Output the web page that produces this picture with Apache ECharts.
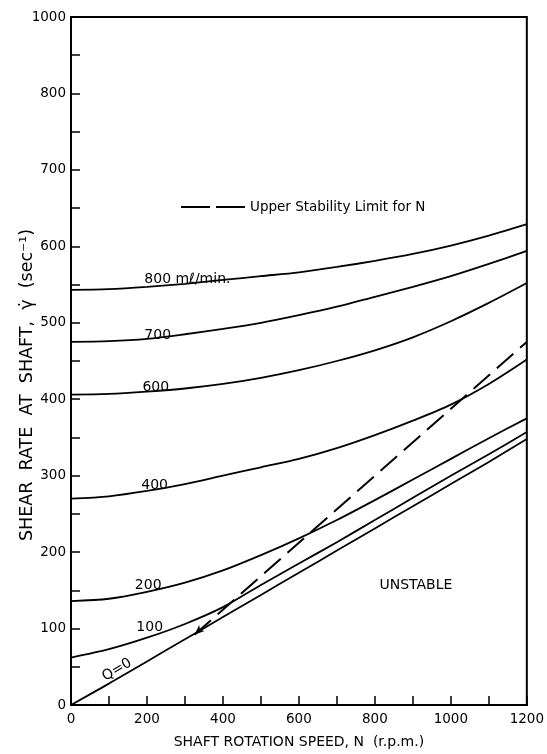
<!DOCTYPE html>
<html>
<head>
<meta charset="utf-8">
<script src="https://cdn.jsdelivr.net/npm/echarts@6/dist/echarts.min.js"></script>
<style>
html,body{margin:0;padding:0;background:#fff;}
#chart{width:547px;height:754px;}
</style>
</head>
<body>
<div id="chart"></div>
<script>
// ---- data ----
const nRpm = [0, 100, 200, 300, 400, 500, 600, 700, 800, 900, 1000, 1100, 1200];
const q800 = [543, 544, 547, 551, 556, 561, 566, 573, 581, 590, 601, 614, 629];
const q700 = [475, 476, 479, 485, 492, 500, 510, 521, 534, 547, 561, 577, 594];
const q600 = [406, 407, 410, 414, 420, 428, 438, 450, 464, 481, 502, 526, 552];
const q400 = [270, 273, 280, 289, 300, 311, 322, 336, 353, 372, 393, 420, 452];
const q200 = [136, 139, 148, 160, 176, 196, 218, 242, 268, 295, 322, 349, 375];
const q100 = [62, 73, 88, 106, 128, 157, 185, 213, 242, 271, 300, 328, 357];
const q0   = [0, 28, 57, 86, 115, 144, 173, 202, 231, 260, 289, 318, 348];
const stabilityN = [325, 1200];
const stabilityRate = [92, 475];
const yTickLabels = ['0', '100', '200', '300', '400', '500', '600', '700', '800', '1000'];
const xTickLabels = ['0', '', '200', '', '400', '', '600', '', '800', '', '1000', '', '1200'];
const curveNames = ['800', '700', '600', '400', '200', '100', '0'];
const curveValues = [q800, q700, q600, q400, q200, q100, q0];
const legendName = 'Upper Stability Limit for N';
// curve label anchors (data coordinates)
const curveLabels = [
  {text: '800 m\u2113/min.', n: 193, g: 557},
  {text: '700', n: 193, g: 483},
  {text: '600', n: 188, g: 416},
  {text: '400', n: 185, g: 287},
  {text: '200', n: 168, g: 156},
  {text: '100', n: 172, g: 102},
  {text: 'UNSTABLE', n: 812, g: 157}
];
const q0Label = {text: 'Q=0', n: 121, g: 46};

const FONT = 'DejaVu Sans';
const chart = echarts.init(document.getElementById('chart'), null, {renderer: 'canvas'});

const series = curveNames.map((name, k) => ({
  name: name,
  type: 'line',
  data: nRpm.map((n, i) => [n, curveValues[k][i]]),
  smooth: 0.3,
  symbol: 'none',
  lineStyle: {color: '#000', width: 1.8},
  silent: true,
  z: 3
}));
series.push({
  name: legendName,
  type: 'line',
  data: stabilityN.map((n, i) => i === 0
    ? {value: [n, stabilityRate[i]], symbol: 'arrow', symbolSize: [6, 10], symbolRotate: 132}
    : {value: [n, stabilityRate[i]], symbol: 'none'}),
  showSymbol: true,
  itemStyle: {color: '#000'},
  lineStyle: {color: '#000', width: 2, type: [22, 9]},
  silent: true,
  z: 4
});

const option = {
  animation: false,
  backgroundColor: '#fff',
  grid: {left: 71, right: 19, top: 17, bottom: 40, show: true, borderColor: '#000', borderWidth: 2, backgroundColor: 'transparent'},
  xAxis: {
    type: 'value', min: 0, max: 1200, interval: 100,
    name: 'SHAFT ROTATION SPEED, N  (r.p.m.)',
    nameLocation: 'middle', nameGap: 30,
    nameTextStyle: {color: '#000', fontSize: 14, fontFamily: FONT},
    axisLine: {show: true, lineStyle: {color: '#000', width: 2}},
    axisTick: {show: true, inside: true, length: 9, lineStyle: {color: '#000', width: 1.5}},
    axisLabel: {color: '#000', fontSize: 13.5, fontFamily: FONT, margin: 7,
      formatter: v => xTickLabels[Math.round(v / 100)] || ''},
    splitLine: {show: false}
  },
  yAxis: {
    type: 'value', min: 0, max: 900, interval: 100,
    axisLine: {show: true, lineStyle: {color: '#000', width: 2}},
    axisTick: {show: true, inside: true, length: 9, lineStyle: {color: '#000', width: 1.5}},
    minorTick: {show: true, splitNumber: 2, length: 9, lineStyle: {color: '#000', width: 1.5}},
    axisLabel: {color: '#000', fontSize: 13.5, fontFamily: FONT, margin: 5,
      formatter: v => yTickLabels[Math.round(v / 100)] || ''},
    splitLine: {show: false}
  },
  series: series
};
chart.setOption(option);

const gEls = [];
curveLabels.forEach(l => {
  const p = chart.convertToPixel({gridIndex: 0}, [l.n, l.g]);
  gEls.push({type: 'text', x: p[0], y: p[1], z: 10,
    style: {text: l.text, fill: '#000', font: '14px "' + FONT + '"', textAlign: 'left', textVerticalAlign: 'middle'}});
});
const pq = chart.convertToPixel({gridIndex: 0}, [q0Label.n, q0Label.g]);
gEls.push({type: 'text', x: pq[0], y: pq[1], rotation: 0.53, z: 10,
  style: {text: q0Label.text, fill: '#000', font: '14px "' + FONT + '"', textAlign: 'center', textVerticalAlign: 'middle'}});
// y-axis title
gEls.push({type: 'text', x: 27, y: 385, rotation: Math.PI / 2, z: 10,
  style: {text: 'SHEAR  RATE  AT  SHAFT,  \u03B3\u0307  (sec\u207B\u00B9)', fill: '#000', font: '17.5px "' + FONT + '"', textAlign: 'center', textVerticalAlign: 'middle'}});
// legend for the dashed stability limit
gEls.push({type: 'line', z: 10, shape: {x1: 181, y1: 207, x2: 245, y2: 207},
  style: {stroke: '#000', lineWidth: 2, lineDash: [29, 6]}});
gEls.push({type: 'text', x: 250, y: 207, z: 10,
  style: {text: legendName, fill: '#000', font: '13.5px "' + FONT + '"', textAlign: 'left', textVerticalAlign: 'middle'}});
chart.setOption({graphic: {elements: gEls}});
</script>
</body>
</html>
